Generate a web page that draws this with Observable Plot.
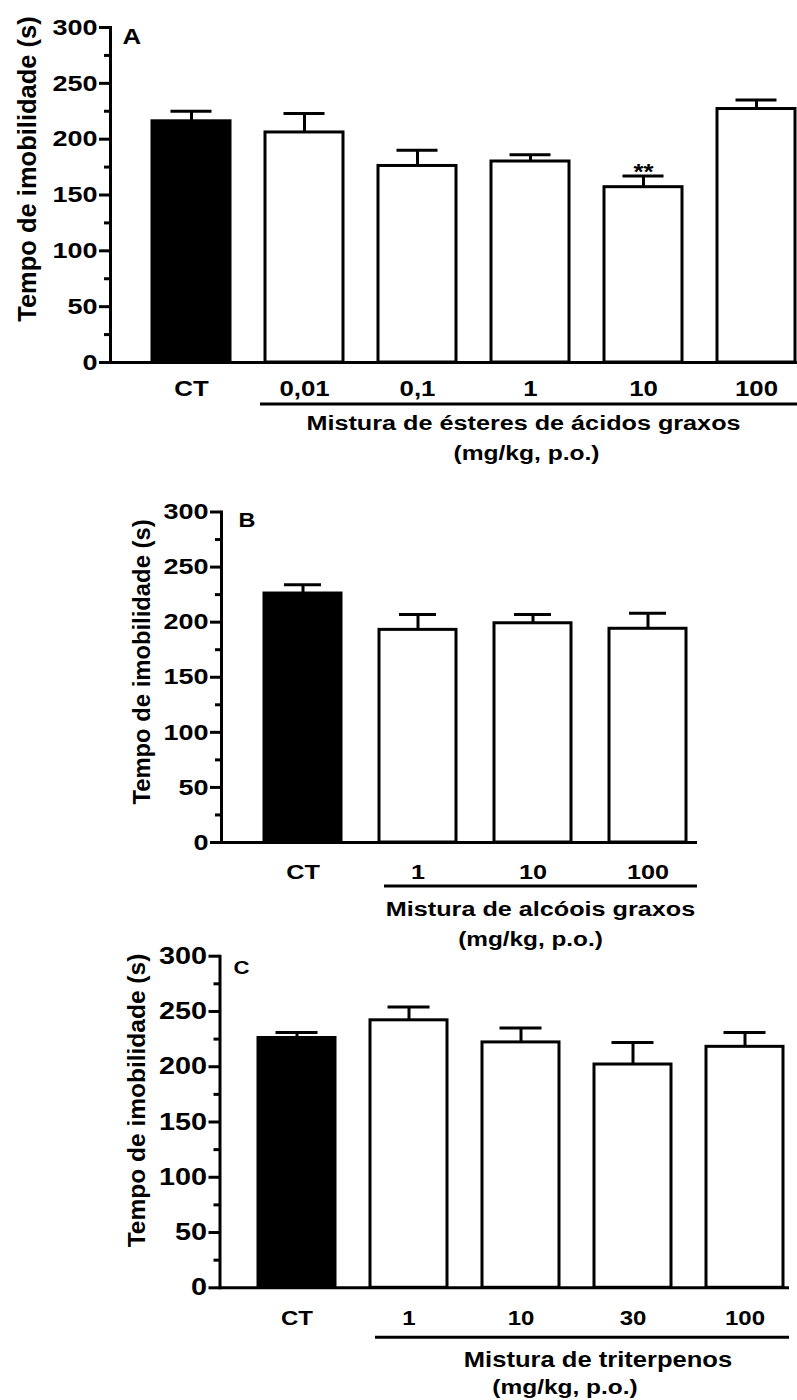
<!DOCTYPE html>
<html><head><meta charset="utf-8">
<script src="https://cdn.jsdelivr.net/npm/d3@7"></script>
<script src="https://cdn.jsdelivr.net/npm/@observablehq/plot@0.6"></script>
<style>
body{margin:0;background:#fff;}
#root{position:relative;width:797px;height:1400px;overflow:hidden;}
#root svg{position:absolute;max-width:none;}
</style></head><body><div id="root"></div>
<script>
const yTicks = [0, 50, 100, 150, 200, 250, 300];
const yMinor = [25, 75, 125, 175, 225, 275];
const yTitle = "Tempo de imobilidade (s)";
const doseUnit = "(mg/kg, p.o.)";

const catsA = ["CT", "0,01", "0,1", "1", "10", "100"];
const meanA = [216, 206, 176, 180, 157, 227];
const semA = [9, 17, 14, 6, 10, 8];
const sigA = ["", "", "", "", "**", ""];
const groupA = "Mistura de ésteres de ácidos graxos";

const catsB = ["CT", "1", "10", "100"];
const meanB = [226, 193, 199, 194];
const semB = [8, 14, 8, 14];
const sigB = ["", "", "", ""];
const groupB = "Mistura de alcóois graxos";

const catsC = ["CT", "1", "10", "30", "100"];
const meanC = [226, 242, 222, 202, 218];
const semC = [5, 12, 13, 20, 13];
const sigC = ["", "", "", "", ""];
const groupC = "Mistura de triterpenos";

const FONT = "'Liberation Sans', Arial, Helvetica, sans-serif";
const root = document.getElementById("root");

function panel(cfg) {
  const {letter, cats, mean, sem, sig, group, top, width, mL, mT, innerH, mB,
         pi, po, align, capInset, sw, sx, fsTick, fsX, fsLetter, fsTitle, fsGroup, fsUnit,
         tickPad, brY, brStart, titleX, titleY, letterDx, letterDy,
         grpY, unitY, grpDx, unitDx} = cfg;
  const data = cats.map((c, i) => ({cat: c, v: mean[i], hi: mean[i] + sem[i], sig: sig[i],
    fill: i === 0 ? "#000" : "#fff"}));
  const height = mT + innerH + mB;
  const plot = Plot.plot({
    width, height,
    marginLeft: mL, marginRight: 0, marginTop: mT, marginBottom: mB,
    style: {background: "transparent", overflow: "visible", fontFamily: FONT, fontWeight: "bold", color: "#000"},
    color: {type: "identity"},
    x: {domain: cats, paddingInner: pi, paddingOuter: po, align, label: null, axis: null},
    y: {domain: [0, 300], label: null, axis: null},
    marks: [
      Plot.ruleX(data, {x: "cat", y1: "v", y2: "hi", stroke: "#000", strokeWidth: sw}),
      Plot.tickY(data, {x: "cat", y: "hi", stroke: "#000", strokeWidth: sw, insetLeft: capInset, insetRight: capInset}),
      Plot.barY(data, {x: "cat", y: "v", fill: "fill", stroke: "#000", strokeWidth: sw}),
      Plot.axisY({ticks: yTicks, tickSize: 11, tickPadding: 2, strokeWidth: sw, fontSize: fsTick, label: null, tickFormat: d => String(d)}),
      Plot.axisY({ticks: yMinor, tickSize: 6, strokeWidth: sw, tickFormat: () => "", label: null}),
      Plot.axisX({tickSize: 0, tickPadding: tickPad, fontSize: fsX, label: null}),
      Plot.frame({anchor: "left", stroke: "#000", strokeWidth: sw}),
      Plot.ruleY([0], {stroke: "#000", strokeWidth: sw}),
      Plot.text(data, {x: "cat", y: "hi", text: "sig", lineAnchor: "bottom", dy: 3, fontSize: fsX}),
      Plot.text([letter], {text: d => d, frameAnchor: "top-left", textAnchor: "start", lineAnchor: "top", dx: letterDx, dy: letterDy, fontSize: fsLetter}),
      Plot.text([yTitle], {text: d => d, frameAnchor: "left", textAnchor: "middle", lineAnchor: "middle", rotate: -90,
        dx: titleX - mL, dy: (titleY - top) - (mT + innerH / 2), fontSize: fsTitle})
    ]
  });
  plot.style.left = "0px";
  plot.style.top = top + "px";
  root.appendChild(plot);

  // bracket under the treated groups and group title, positioned from the x scale
  const xs = plot.scale("x");
  const x0 = xs.apply(cats[1]) + brStart;
  const x1 = width;
  const cx = (x0 + x1) / 2;
  const svg = d3.select(plot);
  const y0 = mT + innerH;
  svg.append("line").attr("x1", x0).attr("x2", x1).attr("y1", y0 + brY).attr("y2", y0 + brY)
    .attr("stroke", "#000").attr("stroke-width", sw);
  svg.append("text").attr("transform", `translate(${cx + grpDx},${y0 + grpY})`).attr("text-anchor", "middle")
    .attr("font-size", fsGroup).text(group);
  svg.append("text").attr("transform", `translate(${cx + unitDx},${y0 + unitY})`).attr("text-anchor", "middle")
    .attr("font-size", fsUnit).text(doseUnit);

  // horizontal stretch of upright texts (the source figure is stretched horizontally)
  svg.selectAll("text").each(function () {
    const t = this.getAttribute("transform") || "";
    if (t.includes("rotate")) return;
    const xa = this.getAttribute("x");
    let pre = "";
    if (xa && !isNaN(+xa)) { pre = ` translate(${+xa},0)`; this.removeAttribute("x"); }
    this.setAttribute("transform", `${t}${pre} scale(${sx},1)`);
  });
}

panel({letter: "A", cats: catsA, mean: meanA, sem: semA, sig: sigA, group: groupA,
  top: 0, width: 797, mL: 110, mT: 27, innerH: 335, mB: 128,
  pi: 0.31, po: 0.176, align: 0.95, capInset: 18.5, sw: 3, sx: 1.2,
  fsTick: 22.5, fsX: 21.5, fsLetter: 21.5, fsTitle: 25.5, fsGroup: 21, fsUnit: 20.5,
  tickPad: 18.7, brY: 42, brStart: -5, titleX: 27, titleY: 168.5, letterDx: 12, letterDy: 1,
  grpY: 68, unitY: 98, grpDx: -5, unitDx: -2});

panel({letter: "B", cats: catsB, mean: meanB, sem: semB, sig: sigB, group: groupB,
  top: 495, width: 697, mL: 221, mT: 16.5, innerH: 330.5, mB: 113,
  pi: 0.328, po: 0.218, align: 0.80, capInset: 20, sw: 3, sx: 1.2,
  fsTick: 22.5, fsX: 21, fsLetter: 19.5, fsTitle: 23.8, fsGroup: 21, fsUnit: 20.3,
  tickPad: 22, brY: 44, brStart: 5, titleX: 141.5, titleY: 661.5, letterDx: 17, letterDy: 1.5,
  grpY: 74, unitY: 104, grpDx: 0, unitDx: -10});

panel({letter: "C", cats: catsC, mean: meanC, sem: semC, sig: sigC, group: groupC,
  top: 945, width: 789, mL: 219.5, mT: 10.7, innerH: 331.6, mB: 112.7,
  pi: 0.31, po: 0.175, align: 0.88, capInset: 17.5, sw: 3, sx: 1.2,
  fsTick: 24, fsX: 20, fsLetter: 18.5, fsTitle: 24.5, fsGroup: 21.3, fsUnit: 20.4,
  tickPad: 22.7, brY: 50, brStart: 5, titleX: 137, titleY: 1100, letterDx: 13.5, letterDy: 4.3,
  grpY: 80, unitY: 107, grpDx: 16, unitDx: -17});
</script>
</body></html>
